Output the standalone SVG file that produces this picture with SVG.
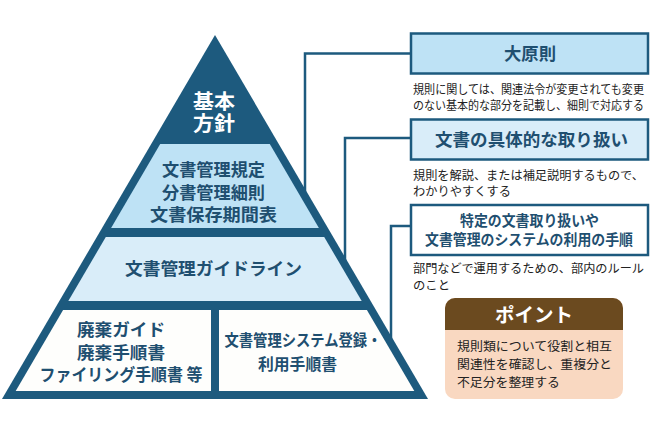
<svg xmlns="http://www.w3.org/2000/svg" width="650" height="431" viewBox="0 0 650 431">
<defs>
<style>
.dk{fill:#1d5a7e}
.t{font-family:"Noto Sans CJK JP","Noto Sans",sans-serif;font-weight:bold;fill:#1f4f70;text-anchor:middle}
.w{fill:#ffffff}
.d{font-family:"Noto Sans CJK JP","Noto Sans",sans-serif;fill:#222222;font-size:12px}
.ln{fill:none;stroke:#1d5a7e;stroke-width:2.5}
.bx{stroke:#1d5a7e;stroke-width:2.5}
</style>
</defs>
<rect width="650" height="431" fill="#ffffff"/>
<g id="connectors">
<polyline class="ln" points="411,53.5 305,53.5 305,195"/>
<polyline class="ln" points="411,138 345,138 345,265"/>
<polyline class="ln" points="411,226 391,226 391,345"/>
</g>
<g id="pyramid">
<polygon class="dk" points="215,35 428,399 2,399"/>
</g>
<g id="tier1">
<text class="t w" x="214" y="109" font-size="20" textLength="42" lengthAdjust="spacingAndGlyphs">基本</text>
<text class="t w" x="214" y="131" font-size="20" textLength="42" lengthAdjust="spacingAndGlyphs">方針</text>
</g>
<g id="tier2">
<polygon fill="#bee2f5" points="160.2,144 269.8,144 318.9,228 111.1,228"/>
<text class="t" x="213.5" y="176" font-size="17.5" textLength="103" lengthAdjust="spacingAndGlyphs">文書管理規定</text>
<text class="t" x="213.5" y="199" font-size="17.5" textLength="103" lengthAdjust="spacingAndGlyphs">分書管理細則</text>
<text class="t" x="213.5" y="221" font-size="17.5" textLength="127" lengthAdjust="spacingAndGlyphs">文書保存期間表</text>
</g>
<g id="tier3">
<polygon fill="#d9edf9" points="105.8,237 324.2,237 361.7,301 68.3,301"/>
<text class="t" x="213.5" y="274.5" font-size="17.5" textLength="177" lengthAdjust="spacingAndGlyphs">文書管理ガイドライン</text>
</g>
<g id="tier4-left">
<polygon fill="#fefefc" points="63.1,310 211,310 211,391 15.7,391"/>
<text class="t" x="121" y="335.5" font-size="17" textLength="88" lengthAdjust="spacingAndGlyphs">廃棄ガイド</text>
<text class="t" x="121" y="358.5" font-size="17" textLength="88" lengthAdjust="spacingAndGlyphs">廃棄手順書</text>
<text class="t" x="121" y="380.5" font-size="17" textLength="163" lengthAdjust="spacingAndGlyphs">ファイリング手順書 等</text>
</g>
<g id="tier4-right">
<polygon fill="#fefefc" points="219,310 366.9,310 414.3,391 219,391"/>
<text class="t" x="303" y="345.5" font-size="16" textLength="157" lengthAdjust="spacingAndGlyphs">文書管理システム登録・</text>
<text class="t" x="297.5" y="370" font-size="16" textLength="79" lengthAdjust="spacingAndGlyphs">利用手順書</text>
</g>
<g id="box1">
<rect class="bx" x="411" y="33.5" width="237" height="40" fill="#bee2f5"/>
<text class="t" x="530" y="60" font-size="17.5" textLength="52" lengthAdjust="spacingAndGlyphs">大原則</text>
<text class="d" x="413" y="93.5" textLength="231" lengthAdjust="spacingAndGlyphs">規則に関しては、関連法令が変更されても変更</text>
<text class="d" x="413" y="110" textLength="231" lengthAdjust="spacingAndGlyphs">のない基本的な部分を記載し、細則で対応する</text>
</g>
<g id="box2">
<rect class="bx" x="411" y="119.5" width="237" height="40" fill="#d9edf9"/>
<text class="t" x="531.5" y="145.5" font-size="17.5" textLength="193" lengthAdjust="spacingAndGlyphs">文書の具体的な取り扱い</text>
<text class="d" x="413" y="179.5" textLength="231" lengthAdjust="spacingAndGlyphs">規則を解説、または補足説明するもので、</text>
<text class="d" x="413" y="196" textLength="98" lengthAdjust="spacingAndGlyphs">わかりやすくする</text>
</g>
<g id="box3">
<rect class="bx" x="411" y="205" width="237" height="50" fill="#ffffff"/>
<text class="t" x="529.5" y="226" font-size="14.5" textLength="139" lengthAdjust="spacingAndGlyphs">特定の文書取り扱いや</text>
<text class="t" x="529" y="244.5" font-size="14.5" textLength="208" lengthAdjust="spacingAndGlyphs">文書管理のシステムの利用の手順</text>
<text class="d" x="413" y="272.5" textLength="231" lengthAdjust="spacingAndGlyphs">部門などで運用するための、部内のルール</text>
<text class="d" x="413" y="289.5" textLength="37" lengthAdjust="spacingAndGlyphs">のこと</text>
</g>
<g id="point">
<rect x="445" y="298" width="178" height="101" rx="10" fill="#f9d8c1"/>
<path d="M445,330 V308 A10,10 0 0 1 455,298 H613 A10,10 0 0 1 623,308 V330 Z" fill="#6b4a1f"/>
<text class="t w" x="534" y="322" font-size="19.5" textLength="78" lengthAdjust="spacingAndGlyphs">ポイント</text>
<text class="d" x="457" y="350.5" font-size="13.5" textLength="155" lengthAdjust="spacingAndGlyphs">規則類について役割と相互</text>
<text class="d" x="457" y="368.5" font-size="13.5" textLength="155" lengthAdjust="spacingAndGlyphs">関連性を確認し、重複分と</text>
<text class="d" x="457" y="386.5" font-size="13.5" textLength="103" lengthAdjust="spacingAndGlyphs">不足分を整理する</text>
</g>
</svg>
